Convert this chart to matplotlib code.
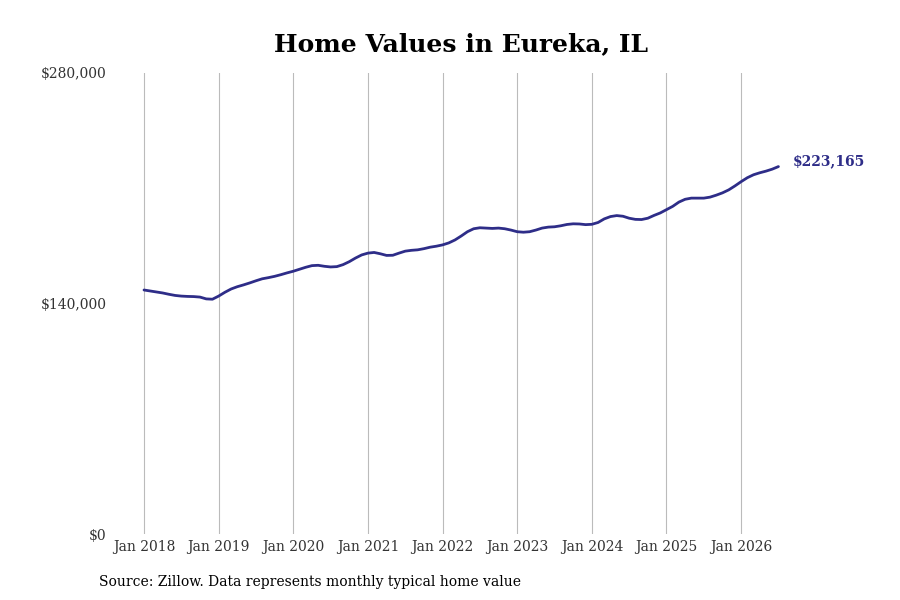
import numpy as np
import matplotlib
matplotlib.use("Agg")
import matplotlib.pyplot as plt

plt.rcParams['font.family'] = ['DejaVu Serif']

# monthly typical home value, Jan 2018 .. Jul 2026 (thousands of $)
values_2018 = [148.2, 147.6, 147.0, 146.4, 145.6, 144.9, 144.5, 144.3, 144.2, 143.9, 142.8, 142.6]
values_2019 = [144.5, 146.8, 148.8, 150.2, 151.3, 152.5, 153.8, 155.0, 155.7, 156.5, 157.5, 158.6]
values_2020 = [159.6, 160.8, 162.0, 163.0, 163.2, 162.6, 162.2, 162.4, 163.6, 165.4, 167.6, 169.5]
values_2021 = [170.6, 171.0, 170.2, 169.2, 169.3, 170.6, 171.8, 172.3, 172.6, 173.3, 174.2, 174.8]
values_2022 = [175.6, 176.8, 178.6, 181.0, 183.6, 185.4, 186.0, 185.8, 185.6, 185.8, 185.4, 184.6]
values_2023 = [183.6, 183.3, 183.6, 184.6, 185.8, 186.4, 186.6, 187.2, 188.0, 188.4, 188.3, 187.9]
values_2024 = [188.1, 189.2, 191.4, 192.8, 193.4, 193.0, 191.8, 191.1, 191.0, 191.8, 193.5, 195.0]
values_2025 = [197.0, 199.0, 201.6, 203.3, 204.0, 204.0, 204.0, 204.6, 205.8, 207.2, 209.0, 211.4]
values_2026 = [214.0, 216.4, 218.2, 219.4, 220.4, 221.6, 223.165]

values = np.array(values_2018 + values_2019 + values_2020 + values_2021 + values_2022
                  + values_2023 + values_2024 + values_2025 + values_2026) * 1000
months = np.arange(len(values))

tick_labels = ["Jan 2018", "Jan 2019", "Jan 2020", "Jan 2021", "Jan 2022",
               "Jan 2023", "Jan 2024", "Jan 2025", "Jan 2026"]
y_ticks = [0, 140000, 280000]
y_labels = ["$0", "$140,000", "$280,000"]
end_label = "$223,165"

line_color = "#2e2d88"

fig = plt.figure(figsize=(9, 6), dpi=100)
ax = fig.add_axes([115 / 900, 66 / 600, (790 - 115) / 900, (534 - 73) / 600])

ax.plot(months, values, color=line_color, lw=2.0, solid_capstyle='round')

ax.set_xlim((115 - 144) / 6.22, (790 - 144) / 6.22)
ax.set_ylim(0, 280000)
ax.set_xticks(np.arange(len(tick_labels)) * 12)
ax.set_xticklabels(tick_labels)
ax.set_yticks(y_ticks)
ax.set_yticklabels(y_labels)
ax.tick_params(axis='both', length=0, labelsize=10, labelcolor="#333333")
ax.tick_params(axis='y', pad=6)
ax.tick_params(axis='x', pad=4)
ax.grid(axis='x', color="#bbbbbb", lw=0.8)
for s in ax.spines.values():
    s.set_visible(False)

ax.annotate(end_label, xy=(months[-1], values[-1]), xytext=(10, 4), textcoords='offset points',
            color=line_color, fontsize=10, fontweight='bold', va='center', ha='left')

fig.text(461 / 900, 1 - 44 / 600, "Home Values in Eureka, IL", ha='center', va='center',
         fontsize=18, fontweight='bold')
fig.text(99 / 900, 1 - 582 / 600, "Source: Zillow. Data represents monthly typical home value",
         ha='left', va='center', fontsize=10)

fig.savefig("out.png", dpi=100)
